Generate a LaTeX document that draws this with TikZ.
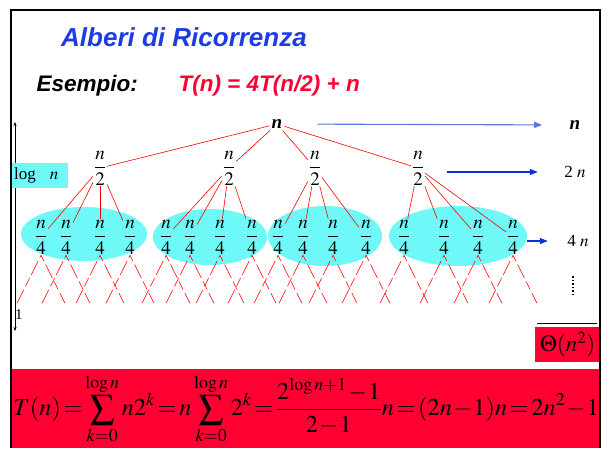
\documentclass[tikz,border=0pt]{standalone}
\usepackage{mathptmx}
\usepackage{fontspec}
\setmainfont{Liberation Serif}
\setsansfont{Liberation Sans}
\usetikzlibrary{arrows.meta, positioning, calc, shapes.geometric}

\definecolor{TreeRed}{HTML}{FF0000}
\definecolor{BoxRed}{HTML}{FF0033}
\definecolor{LevelCyan}{HTML}{6EF8F8}
\definecolor{TitleBlue}{HTML}{1E3CE6}
\definecolor{ArrowBlue}{HTML}{0A32D2}
\definecolor{PaleBlue}{HTML}{5A78DC}

\tikzset{
  frac/.style={inner sep=1pt, font=\fontsize{19}{19}\selectfont},
  levelblob/.style={ellipse, fill=LevelCyan, inner sep=0pt},
  branch/.style={TreeRed, line width=0.6pt},
  leafline/.style={TreeRed, line width=0.6pt, dash pattern=on 15pt off 4pt on 9pt off 4pt},
  levelcost/.style={font=\fontsize{17}{17}\selectfont},
  costarrow/.style={-{Triangle[length=8pt, width=6pt]}, line width=1.1pt},
  heading/.style={font=\sffamily\bfseries\itshape\fontsize{22.5}{22.5}\selectfont, anchor=west},
}

\begin{document}
\begin{tikzpicture}[x=1pt, y=-1pt]
  \useasboundingbox (0,0) rectangle (602,448);

  % Title and recurrence
  \node[font=\sffamily\bfseries\itshape\fontsize{26}{26}\selectfont, TitleBlue] (title) at (184,37) {Alberi di Ricorrenza};
  \node[heading] (esempio) at (33,86) {Esempio:};
  \node[heading, BoxRed] (rec) at (175,86) {T(n) = 4T(n/2) + n};

  % Cyan levels
  \node[levelblob, minimum width=126pt, minimum height=54pt] (lev1) at (84,234) {};
  \node[levelblob, minimum width=114pt, minimum height=56pt] (lev2) at (210,237) {};
  \node[levelblob, minimum width=114pt, minimum height=60pt] (lev3) at (325,236) {};
  \node[levelblob, minimum width=138pt, minimum height=60pt] (lev4) at (458,236) {};

  % Tree
  \node[font=\bfseries\itshape\fontsize{19}{19}\selectfont, inner sep=2pt] (root) at (277,124) {n};
  \foreach \x [count=\i] in {100,229,315,418}
    \node[frac] (h\i) at (\x,168) {$\displaystyle\frac{n}{2}$};
  \foreach \x [count=\i] in {41,66,100,130,166,190,220,252,278,303,333,366,404,444,478,513}
    \node[frac] (q\i) at (\x,237) {$\displaystyle\frac{n}{4}$};

  \foreach \i in {1,...,4}
    \draw[branch] (root) -- (h\i);
  \foreach \i in {1,...,16} {
    \pgfmathtruncatemacro\h{int((\i-1)/4)+1}
    \draw[branch] (h\h) -- (q\i);
    \draw[leafline] (q\i.south) ++(-24,48) -- (q\i.south) -- ++(24,48);
  }

  % Cost per level
  \node[font=\bfseries\itshape\fontsize{19}{19}\selectfont] (cost1) at (575,125) {n};
  \node[levelcost] (cost2) at (575,172) {2 $n$};
  \node[levelcost] (cost3) at (578,241) {4 $n$};
  \draw[costarrow, PaleBlue, shorten <=33pt, shorten >=24pt] (root) -- (cost1);
  \draw[costarrow, ArrowBlue, shorten <=22pt, shorten >=23pt] (h4.east |- cost2) -- (cost2.west);
  \draw[costarrow, ArrowBlue, shorten >=16pt] (lev4.east |- cost3) -- (cost3.west);
  \draw[dotted, line width=1.5pt] (573,276) -- (573,296);

  % Total
  \node[fill=BoxRed, minimum width=65pt, minimum height=35pt, inner sep=0pt,
        font=\fontsize{23}{23}\selectfont] (total) at (567.5,344.5) {$\Theta(n^2)$};
  \draw (total.north west) ++(2,-4) -- ++(60,0);

  % Depth
  \coordinate (depthtop) at (15,122);
  \coordinate (depthbot) at (15,331);
  \draw[{Stealth[length=4pt, width=3pt]}-{Stealth[length=4pt, width=3pt]}] (depthtop) -- (depthbot);
  \node[fill=LevelCyan, anchor=west, minimum height=25pt, text width=52pt, inner xsep=2pt,
        font=\fontsize{17}{17}\selectfont] (depth) at (12,175) {log\hspace{14pt}$n$};
  \node[font=\fontsize{15}{15}\selectfont] (one) at (19,315) {1};

  % Sum
  \node[fill=BoxRed, anchor=north west, minimum width=588pt, minimum height=79pt, inner sep=0pt,
        font=\fontsize{24.3}{24.3}\selectfont] (sumbox) at (12,369)
    {\thickmuskip=2mu\medmuskip=1mu$\displaystyle T(n)=\sum_{k=0}^{\log n} n2^k=n\sum_{k=0}^{\log n}2^k=\frac{2^{\log n+1}-1}{2-1}n=(2n-1)n=2n^2-1$};

  % Frame
  \draw[line width=2pt] (11,448) -- (11,10) -- (600,10) -- (600,448);
\end{tikzpicture}
\end{document}
